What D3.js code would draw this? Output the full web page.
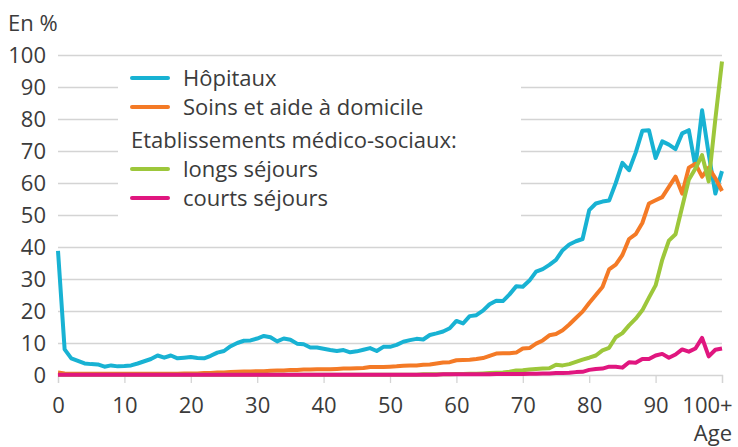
<!DOCTYPE html>
<html>
<head>
<meta charset="utf-8">
<script src="https://cdn.jsdelivr.net/npm/d3@7"></script>
<style>
  body { margin: 0; background: #fff; }
  svg text { font-family: "Open Sans", Lato, sans-serif; fill: #3b3b3b; }
</style>
</head>
<body>
<svg width="738" height="447"></svg>
<script>
// Data, ages 0..100+ (share in %)
var ages = d3.range(0, 101);
var hopitaux = [38.8, 8.0, 5.2, 4.4, 3.6, 3.4, 3.3, 2.6, 3.0, 2.7,
  2.8, 3.0, 3.6, 4.3, 5.0, 6.1, 5.4, 6.1, 5.2, 5.4,
  5.6, 5.3, 5.2, 6.0, 7.0, 7.5, 9.0, 10.0, 10.7, 10.8,
  11.4, 12.2, 11.8, 10.5, 11.4, 11.0, 9.8, 9.6, 8.6, 8.6,
  8.2, 7.8, 7.5, 7.8, 7.1, 7.4, 7.9, 8.4, 7.5, 8.8,
  8.8, 9.4, 10.4, 10.9, 11.3, 11.1, 12.5, 13.0, 13.6, 14.6,
  16.9, 16.1, 18.4, 18.7, 20.1, 22.1, 23.2, 23.1, 25.2, 27.7,
  27.6, 29.5, 32.3, 33.1, 34.4, 36.0, 39.0, 40.8, 41.8, 42.5,
  51.5, 53.6, 54.2, 54.5, 60.0, 66.3, 64.0, 69.5, 76.3, 76.5,
  67.8, 73.0, 72.0, 70.6, 75.5, 76.5, 65.0, 82.7, 69.0, 56.7,
  63.7];
var soins = [0.8, 0.5, 0.4, 0.4, 0.4, 0.4, 0.4, 0.4, 0.4, 0.4,
  0.4, 0.4, 0.4, 0.4, 0.4, 0.4, 0.4, 0.4, 0.4, 0.5,
  0.5, 0.5, 0.6, 0.6, 0.8, 0.8, 0.9, 1.0, 1.1, 1.1,
  1.2, 1.2, 1.3, 1.4, 1.4, 1.6, 1.6, 1.7, 1.7, 1.8,
  1.8, 1.8, 1.9, 2.0, 2.0, 2.1, 2.2, 2.5, 2.5, 2.5,
  2.6, 2.7, 2.9, 3.0, 3.0, 3.2, 3.3, 3.6, 3.9, 4.0,
  4.6, 4.7, 4.8, 5.0, 5.3, 6.0, 6.7, 6.8, 6.8, 7.0,
  8.3, 8.4, 9.8, 10.8, 12.4, 12.8, 14.0, 15.8, 17.8, 19.8,
  22.5, 25.0, 27.5, 33.0, 34.5, 37.5, 42.5, 44.0, 47.5, 53.6,
  54.6, 55.6, 58.8, 62.0, 56.7, 64.8, 66.0, 62.0, 64.8, 61.5,
  57.5];
var longs = [0.1, 0.1, 0.1, 0.1, 0.1, 0.1, 0.1, 0.1, 0.1, 0.1,
  0.1, 0.1, 0.1, 0.1, 0.1, 0.1, 0.1, 0.1, 0.1, 0.1,
  0.1, 0.1, 0.1, 0.1, 0.1, 0.1, 0.1, 0.1, 0.1, 0.1,
  0.1, 0.1, 0.1, 0.1, 0.1, 0.1, 0.1, 0.1, 0.1, 0.1,
  0.1, 0.1, 0.1, 0.1, 0.1, 0.1, 0.1, 0.1, 0.1, 0.1,
  0.1, 0.1, 0.1, 0.1, 0.1, 0.2, 0.2, 0.2, 0.2, 0.2,
  0.3, 0.3, 0.4, 0.4, 0.5, 0.6, 0.7, 0.8, 1.0, 1.4,
  1.5, 1.7, 1.9, 2.0, 2.1, 3.2, 3.0, 3.4, 4.1, 4.8,
  5.4, 6.1, 7.7, 8.5, 11.8, 13.1, 15.5, 17.6, 20.2, 24.2,
  28.0, 36.0, 42.0, 44.0, 52.5, 61.0, 64.5, 68.7, 60.5, 80.0,
  98.0];
var courts = [0.1, 0.1, 0.1, 0.1, 0.1, 0.1, 0.1, 0.1, 0.1, 0.1,
  0.1, 0.1, 0.1, 0.1, 0.1, 0.1, 0.1, 0.1, 0.1, 0.1,
  0.1, 0.1, 0.1, 0.1, 0.1, 0.1, 0.1, 0.1, 0.1, 0.1,
  0.1, 0.1, 0.1, 0.1, 0.1, 0.1, 0.1, 0.1, 0.1, 0.1,
  0.1, 0.1, 0.1, 0.1, 0.1, 0.1, 0.1, 0.1, 0.1, 0.1,
  0.1, 0.1, 0.1, 0.1, 0.1, 0.1, 0.1, 0.1, 0.2, 0.2,
  0.2, 0.2, 0.2, 0.2, 0.2, 0.2, 0.3, 0.3, 0.3, 0.3,
  0.3, 0.4, 0.4, 0.5, 0.5, 0.6, 0.6, 0.7, 0.9, 1.0,
  1.6, 1.9, 2.0, 2.6, 2.6, 2.3, 4.0, 3.8, 5.0, 5.0,
  6.1, 6.6, 5.4, 6.4, 8.0, 7.3, 8.3, 11.6, 5.8, 7.9,
  8.3];

var seriesNames = ["Hôpitaux", "Soins et aide à domicile", "longs séjours", "courts séjours"];
var seriesColors = ["#18b2d3", "#f47a26", "#9dc73b", "#e0167f"];
var seriesValues = [hopitaux, soins, longs, courts];

var xTicks = [0, 10, 20, 30, 40, 50, 60, 70, 80, 90, 100];
var xTickLabels = ["0", "10", "20", "30", "40", "50", "60", "70", "80", "90", "100+"];
var yTicks = [0, 10, 20, 30, 40, 50, 60, 70, 80, 90, 100];

var svg = d3.select("svg"),
    width = +svg.attr("width"),
    height = +svg.attr("height");

var fs = 22;

var x = d3.scaleLinear().domain([0, 100]).range([58, 722]);
var y = d3.scaleLinear().domain([0, 100]).range([375, 55]);

// gridlines
svg.append("g")
    .attr("class", "grid")
    .attr("transform", "translate(" + x(0) + ",0)")
    .call(d3.axisLeft(y).tickValues(yTicks.slice(1)).tickSize(-(x(100) - x(0))).tickFormat(""))
    .call(g => g.select(".domain").remove())
    .call(g => g.selectAll("line").attr("stroke", "#d4d4d4").attr("stroke-width", 1.3));

// y labels
svg.append("g")
    .attr("transform", "translate(" + x(0) + ",0)")
    .call(d3.axisLeft(y).tickValues(yTicks).tickSize(0).tickPadding(12))
    .call(g => g.select(".domain").remove())
    .call(g => g.selectAll("text").attr("font-size", fs).attr("font-family", null));

// x axis
var xAxis = svg.append("g")
    .attr("transform", "translate(0," + y(0) + ")")
    .call(d3.axisBottom(x).tickValues(xTicks).tickSize(8).tickPadding(14)
        .tickFormat((d, i) => xTickLabels[i]))
    .call(g => g.select(".domain").attr("stroke", "#d4d4d4").attr("stroke-width", 1.3))
    .call(g => g.selectAll("line").attr("stroke", "#d4d4d4").attr("stroke-width", 1.3))
    .call(g => g.selectAll("text").attr("font-size", fs).attr("font-family", null));
xAxis.selectAll(".tick").filter(d => d === 100).select("text").attr("dx", -15);

// legend box sits on top of gridlines
svg.append("rect")
    .attr("x", 118).attr("y", 62)
    .attr("width", 403).attr("height", 163)
    .attr("fill", "#fff");

// lines
var line = d3.line()
    .x((d, i) => x(ages[i]))
    .y(d => y(d));

seriesValues.forEach((vals, k) => {
    svg.append("path")
        .datum(vals)
        .attr("fill", "none")
        .attr("stroke", seriesColors[k])
        .attr("stroke-width", 4)
        .attr("stroke-linejoin", "round")
        .attr("d", line);
});

// legend
var legendRows = [
    { label: "Hôpitaux", color: seriesColors[0], y: 78 },
    { label: "Soins et aide à domicile", color: seriesColors[1], y: 107 },
    { label: "Etablissements médico-sociaux:", color: null, y: 140 },
    { label: "longs séjours", color: seriesColors[2], y: 169 },
    { label: "courts séjours", color: seriesColors[3], y: 198 }
];
var leg = svg.append("g").attr("class", "legend");
legendRows.forEach(r => {
    if (r.color) {
        leg.append("line")
            .attr("x1", 132).attr("x2", 168)
            .attr("y1", r.y).attr("y2", r.y)
            .attr("stroke", r.color).attr("stroke-width", 4)
            .attr("stroke-linecap", "round");
    }
    leg.append("text")
        .attr("x", r.color ? 183 : 131)
        .attr("y", r.y)
        .attr("dy", "0.35em")
        .attr("font-size", fs)
        .text(r.label);
});

// axis titles
svg.append("text")
    .attr("x", 8).attr("y", 31)
    .attr("font-size", fs)
    .text("En %");

svg.append("text")
    .attr("x", 732).attr("y", 441)
    .attr("text-anchor", "end")
    .attr("font-size", fs)
    .text("Age");
</script>
</body>
</html>
